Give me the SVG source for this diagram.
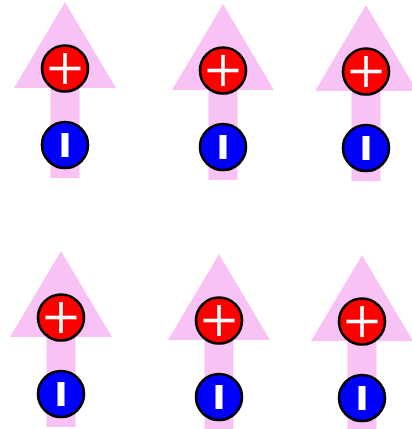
<svg xmlns="http://www.w3.org/2000/svg" xmlns:xlink="http://www.w3.org/1999/xlink" width="412" height="429" viewBox="0 0 412 429">
<style>
.arrow{fill:#f9c2f5}
.pos{fill:#ff0000;stroke:#000;stroke-width:2.6}
.neg{fill:#0000ff;stroke:#000;stroke-width:2.6}
.sym{fill:#fff}
</style>
<defs>
<g id="dipole">
<polygon class="arrow" points="0,0 51,86 14.5,86 14.5,176 -14.5,176 -14.5,86 -51,86"/>
<circle class="pos" cx="0" cy="66.5" r="23"/>
<rect class="sym" x="-15.5" y="64.7" width="31" height="3.6"/>
<rect class="sym" x="-1.8" y="51" width="3.6" height="31"/>
<circle class="neg" cx="0" cy="143" r="23"/>
<rect class="sym" x="-3.5" y="131" width="7" height="24"/>
</g>
</defs>
<rect width="412" height="429" fill="#fff"/>
<g id="dipole1" transform="translate(65,2)"><use xlink:href="#dipole" href="#dipole"/></g>
<g id="dipole2" transform="translate(223,4)"><use xlink:href="#dipole" href="#dipole"/></g>
<g id="dipole3" transform="translate(366,5)"><use xlink:href="#dipole" href="#dipole"/></g>
<g id="dipole4" transform="translate(61,251)"><use xlink:href="#dipole" href="#dipole"/></g>
<g id="dipole5" transform="translate(219,254)"><use xlink:href="#dipole" href="#dipole"/></g>
<g id="dipole6" transform="translate(362,255)"><use xlink:href="#dipole" href="#dipole"/></g>
<g id="connectors"/>
</svg>
